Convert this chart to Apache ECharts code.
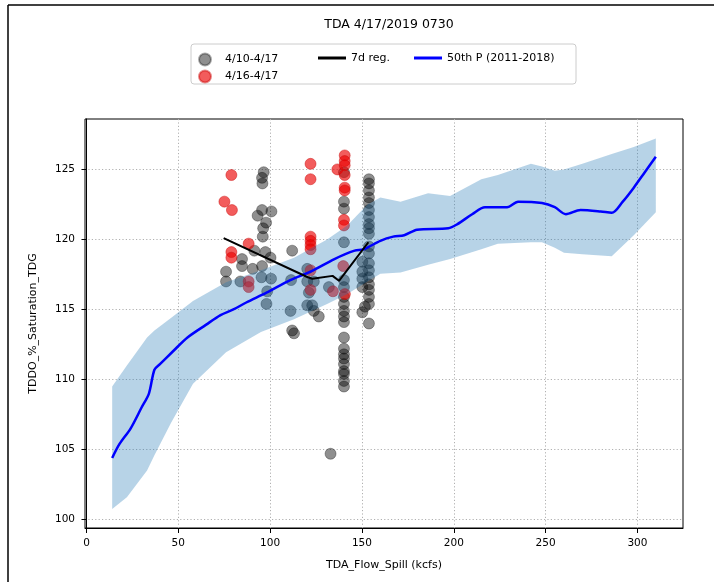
<!DOCTYPE html>
<html>
<head>
<meta charset="utf-8">
<script src="https://cdn.jsdelivr.net/npm/echarts@6/dist/echarts.min.js"></script>
<style>
  html, body { margin: 0; padding: 0; background: #fff; }
  #chart { width: 714px; height: 582px; }
</style>
</head>
<body>
<div id="chart"></div>
<script>
// gray points: 4/10-4/17
const grayX = [76, 76, 83.8, 84.7, 84.7, 90.5, 91.4, 93.2, 95.6, 95.6, 95.3, 96.0, 96.2, 97.8, 96.5, 95.6, 95.8, 100.7, 97.4, 100.2, 100.5, 98.4, 98.0,
  112.0, 111.4, 111.1, 112.0, 113.0, 120.2, 120.2, 121.1, 123.8, 132.0, 120.2, 122.9, 123.8, 126.5, 132.9,
  140.2, 140.2, 140.2, 140.2, 140.2, 140.2, 140.2, 140.2, 140.2, 140.2, 140.2, 140.2, 140.2, 140.2, 140.2, 140.2, 140.2, 140.2, 140.2, 140.2,
  153.8, 153.8, 153.8, 153.8, 153.8, 153.8, 153.8, 153.8, 153.8, 153.8, 153.8, 153.8, 153.8, 153.8, 153.8, 153.8, 153.8, 153.8, 153.8, 153.8,
  150.2, 150.2, 150.2, 150.2, 150.2, 151.6];
const grayY = [117.7, 117.0, 117.0, 118.6, 118.1, 117.9, 119.2, 121.7, 122.1, 118.1, 117.3, 120.2, 120.8, 121.2, 124.8, 124.4, 124.0, 122.0, 119.1, 118.7, 117.2, 116.3, 115.4,
  119.2, 117.1, 114.9, 113.5, 113.3, 117.9, 117.0, 116.2, 117.0, 116.6, 115.3, 115.3, 114.9, 114.5, 104.7,
  124.8, 122.7, 122.2, 119.8, 117.1, 116.6, 115.9, 115.4, 114.9, 114.5, 114.1, 113.0, 112.2, 111.8, 111.5, 111.1, 110.6, 110.4, 109.9, 109.5,
  124.3, 124.0, 123.5, 123.0, 122.6, 122.1, 121.6, 121.1, 120.8, 120.4, 119.5, 119.0, 118.3, 117.8, 117.3, 116.8, 116.4, 115.9, 115.4, 114.0,
  118.4, 117.7, 117.2, 116.6, 114.8, 115.2];

// red points: 4/16-4/17
const redX = [78.9, 75.1, 79.2, 88.3, 78.9, 78.9, 88.3, 88.3, 122, 122, 122, 122, 122, 122, 122, 122,
  136.6, 140.6, 140.6, 140.6, 140.6, 140.6, 140.6, 140.2, 140.2, 139.8, 134.2, 140.7];
const redY = [124.6, 122.7, 122.1, 119.7, 119.1, 118.7, 117.0, 116.6, 125.4, 124.3, 120.2, 119.9, 119.6, 119.3, 117.8, 116.4,
  125.0, 126.0, 125.6, 125.3, 124.6, 123.7, 123.5, 121.4, 121.0, 118.1, 116.3, 116.1];

// 7 day regression
const regX = [74.7, 120.5, 123, 134, 137.5, 153.5];
const regY = [120.1, 117.3, 117.2, 117.4, 117.05, 119.8];

// 50th percentile 2011-2018
const p50X = [14, 18, 24, 30, 34, 37, 40, 47, 55, 65, 73, 80, 87, 98, 111, 122, 135, 146, 151, 160, 167, 173, 180, 197, 202, 210, 217, 229, 235, 248, 255, 261, 269, 280, 286, 292, 298, 304, 310];
const p50Y = [104.4, 105.4, 106.5, 108.0, 109.0, 110.7, 111.1, 112.0, 113.0, 113.9, 114.6, 115.0, 115.5, 116.2, 117.1, 117.7, 118.6, 119.2, 119.3, 119.9, 120.2, 120.3, 120.7, 120.8, 121.1, 121.8, 122.3, 122.3, 122.7, 122.6, 122.3, 121.8, 122.1, 122.0, 121.9, 122.7, 123.7, 124.8, 125.9];

// shaded band
const bandX = [14, 22, 33, 37, 46, 58, 76, 95, 113, 131, 142, 153, 160, 171, 186, 198, 215, 224, 242, 248, 255, 260, 270, 286, 298, 310];
const bandHigh = [109.5, 111.0, 113.0, 113.5, 114.4, 115.6, 116.95, 117.8, 118.7, 120.0, 121.0, 122.5, 123.0, 122.7, 123.3, 123.1, 124.3, 124.6, 125.4, 125.2, 124.9, 125.0, 125.4, 126.1, 126.6, 127.2];
const bandLow = [100.76, 101.6, 103.5, 104.6, 106.9, 109.7, 111.95, 113.4, 114.3, 115.4, 116.1, 117.0, 117.55, 117.65, 118.2, 118.6, 119.3, 119.7, 119.8, 119.8, 119.4, 119.05, 118.95, 118.8, 120.3, 121.95];

const xTicks = [0, 50, 100, 150, 200, 250, 300];
const yTicks = [100, 105, 110, 115, 120, 125];

const FONT = 'DejaVu Sans';
const zip = (a, b) => a.map((v, i) => [v, b[i]]);
const gridLine = { show: true, lineStyle: { color: '#b0b0b0', type: [1.2, 2.2], width: 1 } };

const chart = echarts.init(document.getElementById('chart'));

const option = {
  animation: false,
  textStyle: { fontFamily: FONT },
  title: {
    text: 'TDA 4/17/2019 0730',
    left: 384,
    textAlign: 'center',
    top: 13,
    textStyle: { fontSize: 12.5, fontWeight: 'normal', color: '#000', fontFamily: FONT }
  },
  graphic: [
    { type: 'line', shape: { x1: 8, y1: 5, x2: 714, y2: 5 }, style: { stroke: '#000', lineWidth: 1.5 } },
    { type: 'line', shape: { x1: 8, y1: 5, x2: 8, y2: 582 }, style: { stroke: '#000', lineWidth: 1.5 } },
    { type: 'rect', z: -1, shape: { x: 191, y: 44, width: 385, height: 40, r: 3 }, style: { fill: '#fff', stroke: '#cccccc', lineWidth: 1 } }
  ],
  legend: [
    {
      data: ['4/10-4/17'], left: 193, top: 47.5, icon: 'circle', itemWidth: 30, itemHeight: 12,
      textStyle: { fontSize: 11, color: '#000', fontFamily: FONT }
    },
    {
      data: ['4/16-4/17'], left: 193, top: 64.5, icon: 'circle', itemWidth: 30, itemHeight: 12,
      textStyle: { fontSize: 11, color: '#000', fontFamily: FONT }
    },
    {
      data: ['7d reg.', '50th P (2011-2018)'], left: 313, top: 47.5, icon: 'rect', itemWidth: 28, itemHeight: 3, itemGap: 24,
      textStyle: { fontSize: 11, color: '#000', fontFamily: FONT }
    }
  ],
  grid: { left: 85, right: 31, top: 119, bottom: 54, show: true, borderColor: '#000', borderWidth: 1, backgroundColor: 'transparent' },
  xAxis: {
    type: 'value', min: -0.8, max: 324.8, splitNumber: 5,
    name: 'TDA_Flow_Spill (kcfs)', nameLocation: 'middle', nameGap: 32,
    nameTextStyle: { fontSize: 11, color: '#000', fontFamily: FONT },
    axisLine: { lineStyle: { color: '#000', width: 1 } },
    axisTick: { show: true, length: 5, customValues: xTicks, lineStyle: { color: '#000' } },
    axisLabel: { margin: 10, fontSize: 10.5, color: '#000', fontFamily: FONT, customValues: xTicks },
    splitLine: gridLine
  },
  yAxis: {
    type: 'value', min: 99.4, max: 128.6, splitNumber: 5,
    name: 'TDDO_%_Saturation_TDG', nameLocation: 'middle', nameGap: 46, nameRotate: 90,
    nameTextStyle: { fontSize: 11, color: '#000', fontFamily: FONT },
    axisLine: { show: true, lineStyle: { color: '#000', width: 1 } },
    axisTick: { show: true, length: 5, customValues: yTicks, lineStyle: { color: '#000' } },
    axisLabel: { margin: 10, fontSize: 10.5, color: '#000', fontFamily: FONT, customValues: yTicks },
    splitLine: gridLine
  },
  series: [
    {
      name: '4/10-4/17', type: 'scatter', z: 2, symbolSize: 11,
      data: zip(grayX, grayY),
      itemStyle: { color: 'rgba(0,0,0,0.55)', borderColor: 'rgba(0,0,0,0.4)', borderWidth: 1 }
    },
    {
      name: '4/16-4/17', type: 'scatter', z: 3, symbolSize: 11,
      data: zip(redX, redY),
      itemStyle: { color: 'rgba(235,0,0,0.8)', borderColor: 'rgba(200,0,0,0.55)', borderWidth: 1 }
    },
    {
      name: 'band', type: 'custom', z: 4, clip: true, silent: true,
      data: [[bandX[0], bandLow[0]]],
      renderItem: (params, api) => {
        const pts = [];
        bandX.forEach((x, i) => pts.push(api.coord([x, bandHigh[i]])));
        for (let i = bandX.length - 1; i >= 0; i--) pts.push(api.coord([bandX[i], bandLow[i]]));
        return { type: 'polygon', shape: { points: pts }, style: { fill: '#1f77b4', opacity: 0.32 } };
      }
    },
    {
      name: '50th P (2011-2018)', type: 'line', z: 5, symbol: 'none', smooth: 0.3,
      data: zip(p50X, p50Y),
      lineStyle: { color: '#0000ff', width: 2.5 }, itemStyle: { color: '#0000ff' }
    },
    {
      name: '7d reg.', type: 'line', z: 6, symbol: 'none',
      data: zip(regX, regY),
      lineStyle: { color: '#000', width: 2 }, itemStyle: { color: '#000' }
    }
  ]
};

chart.setOption(option);
</script>
</body>
</html>
